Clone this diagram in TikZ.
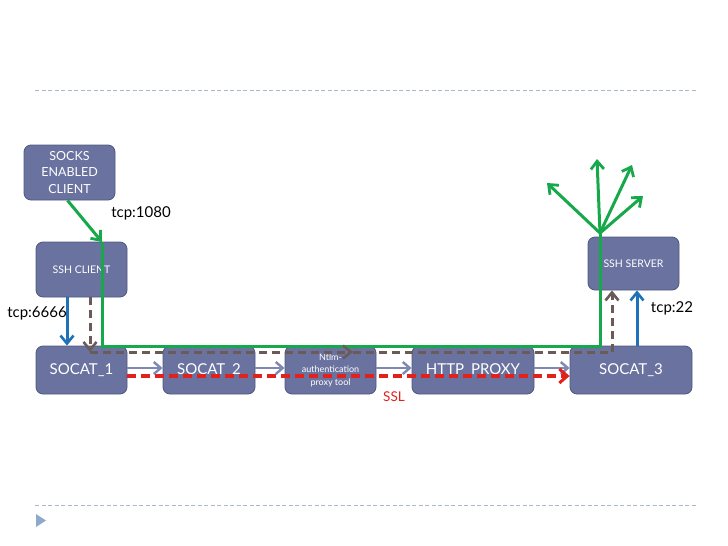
\documentclass[tikz,border=0pt]{standalone}
\usepackage{fontspec}
\setmainfont{Lato}
\usepackage{tikz}
\usetikzlibrary{arrows.meta, positioning, calc}

\definecolor{boxfill}{HTML}{6A73A0}
\definecolor{boxline}{HTML}{4E577E}
\definecolor{sshgreen}{HTML}{16A84B}
\definecolor{tunbrown}{HTML}{6B5B57}
\definecolor{tcpblue}{HTML}{1F72B8}
\definecolor{hopgray}{HTML}{7F88B4}
\definecolor{sslred}{HTML}{E3211C}
\definecolor{rulegray}{HTML}{A9B9C9}
\definecolor{bulletblue}{HTML}{8EAACB}

\begin{document}
\begin{tikzpicture}[x=1pt, y=-1pt,
    box/.style={draw=boxline, line width=0.8pt, fill=boxfill, rounded corners=7pt,
        text=white, align=center, inner sep=1pt},
    gline/.style={sshgreen, line width=3pt},
    garrow/.style={gline, -{Straight Barb[length=8pt, width=13pt, line width=2.8pt]}},
    bdash/.style={tunbrown, line width=3pt, dash pattern=on 8pt off 5pt},
    btip/.style={-{Straight Barb[length=8pt, width=13pt, line width=2.6pt]}},
    barrow/.style={tcpblue, line width=3pt, -{Straight Barb[length=8pt, width=13pt, line width=2.6pt]}},
    hop/.style={hopgray, line width=2.8pt, -{Straight Barb[length=7pt, width=12pt, line width=2.4pt]}},
    rdash/.style={sslred, line width=3.5pt, dash pattern=on 9pt off 5pt},
    tiplabel/.style={font=\fontsize{15}{17}\selectfont, text=black}
]
\useasboundingbox (0,0) rectangle (728,546);

% Slide rules
\draw[rulegray, line width=0.8pt, dash pattern=on 4pt off 2.5pt] (35,90) -- (698,90);
\draw[rulegray, line width=0.8pt, dash pattern=on 4pt off 2.5pt] (35,505) -- (698,505);
\fill[bulletblue] (36,514) -- (46,520.5) -- (36,527) -- cycle;

% Boxes
\node[box, minimum width=91pt, minimum height=55pt, font=\fontsize{12.5}{16.5}\selectfont] (socks) at (69.5,172.5) {SOCKS\\ENABLED\\CLIENT};
\node[box, minimum width=91pt, minimum height=55pt, font=\fontsize{10.5}{12}\selectfont] (sshc) at (81.5,269.5) {SSH CLIENT};
\node[box, minimum width=91pt, minimum height=48pt, font=\fontsize{15}{16}\selectfont] (socat1) at (81.5,370) {SOCAT\_1};
\node[box, minimum width=92pt, minimum height=48pt, font=\fontsize{15}{16}\selectfont] (socat2) at (209,370) {SOCAT\_2};
\node[box, minimum width=91pt, minimum height=48pt, font=\fontsize{9}{12.5}\selectfont] (ntlm) at (330.5,370) {Ntlm-\\authentication\\proxy tool};
\node[box, minimum width=122pt, minimum height=48pt, font=\fontsize{15}{16}\selectfont] (proxy) at (473,370) {HTTP\_PROXY};
\node[box, minimum width=122pt, minimum height=48pt, font=\fontsize{15}{16}\selectfont] (socat3) at (631,370) {SOCAT\_3};
\node[box, minimum width=91pt, minimum height=53pt, font=\fontsize{10.5}{12}\selectfont] (sshs) at (633.5,263.5) {SSH SERVER};

% Corners of the paths
\coordinate (g1) at (102,242);
\coordinate (g2) at (102,346);
\coordinate (g3) at (600,346);
\coordinate (fan) at (600,233);
\coordinate (b1) at (90,352);
\coordinate (b2) at (353,352);
\coordinate (b3) at (612,352);

% Hops between socat boxes
\draw[hop] ([yshift=2pt]socat1.east) -- ([yshift=2pt]socat2.west);
\draw[hop] ([yshift=2pt]socat2.east) -- ([yshift=2pt]ntlm.west);
\draw[hop] ([yshift=2pt]ntlm.east) -- ([yshift=2pt]proxy.west);
\draw[hop] ([yshift=2pt]proxy.east) -- ([yshift=2pt]socat3.west);

% SSL tunnel
\draw[rdash, -{Straight Barb[length=8pt, width=14pt, line width=3pt]}] ([yshift=-6pt]socat1.east) -- ([yshift=-6pt]socat3.west);
\node[text=sslred, font=\fontsize{13.5}{15}\selectfont] (ssl) at (394,397) {SSL};

% Socks traffic
\draw[garrow] ([xshift=-2pt]socks.south) -- (g1);
\draw[gline, line join=miter] (g1) -- (g2) -- (g3) -- (fan);
\draw[garrow] (fan) -- (547,183);
\draw[garrow] (fan) -- (597,159);
\draw[garrow] (fan) -- (632,165);
\draw[garrow] (fan) -- (643,196);

% SSH connection
\draw[barrow] ([xshift=-14.5pt]sshc.south) -- ([xshift=-14.5pt]socat1.north);
\draw[barrow] ([xshift=6pt]socat3.north) -- ([xshift=6pt]socat3.north |- sshs.south);
\draw[bdash, btip] ([xshift=8.5pt]sshc.south) -- (b1);
\draw[bdash, btip] (b1) -- (b2);
\draw[bdash] (b2) -- (b3);
\draw[bdash, btip] (b3) -- (b3 |- sshs.south);

% Ports
\node[tiplabel] (p1080) at (141,213) {tcp:1080};
\node[tiplabel] (p6666) at (37,313) {tcp:6666};
\node[tiplabel] (p22) at (672,308) {tcp:22};

\end{tikzpicture}
\end{document}
